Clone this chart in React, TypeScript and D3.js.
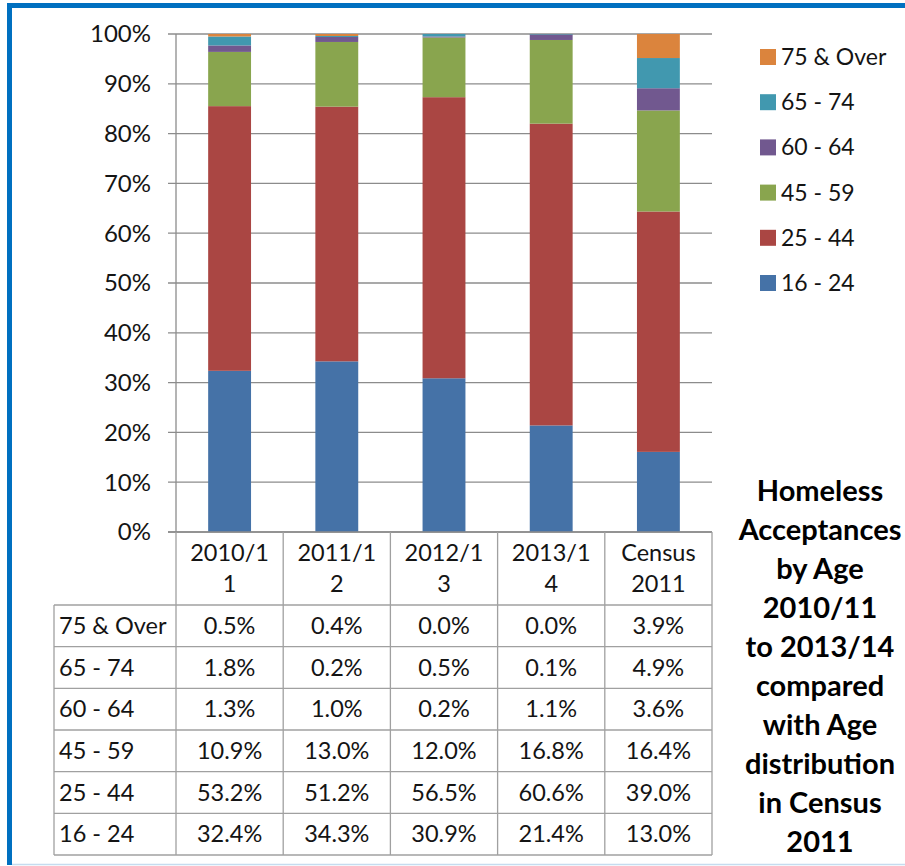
import React from "react";
import * as d3 from "d3";

const categories = ["2010/11", "2011/12", "2012/13", "2013/14", "Census 2011"];
const categoryLines = [["2010/1", "1"], ["2011/1", "2"], ["2012/1", "3"], ["2013/1", "4"], ["Census", "2011"]];
const seriesNames = ["16 - 24", "25 - 44", "45 - 59", "60 - 64", "65 - 74", "75 & Over"];
const seriesColors = ["#4572A7", "#AA4643", "#89A54E", "#71588F", "#4198AF", "#DB843D"];
const age16to24 = [32.4, 34.3, 30.9, 21.4, 13.0];
const age25to44 = [53.2, 51.2, 56.5, 60.6, 39.0];
const age45to59 = [10.9, 13.0, 12.0, 16.8, 16.4];
const age60to64 = [1.3, 1.0, 0.2, 1.1, 3.6];
const age65to74 = [1.8, 0.2, 0.5, 0.1, 4.9];
const age75over = [0.5, 0.4, 0.0, 0.0, 3.9];
const yTicks = [0, 0.1, 0.2, 0.3, 0.4, 0.5, 0.6, 0.7, 0.8, 0.9, 1.0];
const titleLines = ["Homeless", "Acceptances", "by Age", "2010/11", "to 2013/14", "compared", "with Age", "distribution", "in Census", "2011"];

const seriesValues = [age16to24, age25to44, age45to59, age60to64, age65to74, age75over];

export default function App() {
  const W = 905, H = 866;
  const font = "Lato, 'Open Sans', sans-serif";
  const rows = categories.map((c, i) => {
    const r: any = { cat: c };
    seriesNames.forEach((s, j) => (r[s] = seriesValues[j][i]));
    return r;
  });
  const stacked = d3.stack().keys(seriesNames).offset(d3.stackOffsetExpand)(rows);

  const plotLeft = 176, plotRight = 712, plotTop = 34, plotBottom = 532;
  const x = d3.scaleBand().domain(categories).range([plotLeft, plotRight]).paddingInner(0.6).paddingOuter(0.3);
  const y = d3.scaleLinear().domain([0, 1]).range([plotBottom, plotTop]);
  const step = x.step();
  const colEdge = (i: number) => plotLeft + i * step;

  const headerBottom = 605;
  const tableBottom = 855;
  const tableLeft = 54;
  const rowH = (tableBottom - headerBottom) / seriesNames.length;
  const tableOrder = [...seriesNames].reverse();
  const gridColor = "#8c8c8c";
  const tableColor = "#a0a0a0";
  const textColor = "#141414";

  const legendTop = 57, legendStep = 45.2;

  return (
    <div style={{ position: "absolute", left: 0, top: 0 }}>
      <svg width={W} height={H} style={{ display: "block", background: "#fff" }}>
        {/* frame */}
        <line x1={7} x2={W} y1={5.5} y2={5.5} stroke="#0070C0" strokeWidth={5} />
        <line x1={9.5} x2={9.5} y1={3} y2={865} stroke="#0070C0" strokeWidth={5} />
        <line x1={12} x2={W} y1={864.5} y2={864.5} stroke="#c5dcef" strokeWidth={1.5} />

        {/* gridlines & ticks */}
        {yTicks.map((t) => (
          <g key={t}>
            <line x1={168} x2={plotRight} y1={y(t)} y2={y(t)} stroke={gridColor} strokeWidth={1.3} />
            <text x={151} y={y(t)} dy="0.35em" textAnchor="end" fontFamily={font} fontSize={24} fill={textColor}>
              {d3.format(".0%")(t)}
            </text>
          </g>
        ))}

        {/* bars */}
        {stacked.map((s, si) => (
          <g key={s.key} fill={seriesColors[si]}>
            {s.map((d, i) => (
              <rect key={i} x={x(categories[i])} width={x.bandwidth()} y={y(d[1])} height={Math.max(0, y(d[0]) - y(d[1]))} />
            ))}
          </g>
        ))}

        {/* axis line & header */}
        <line x1={168} x2={plotRight} y1={plotBottom} y2={plotBottom} stroke={gridColor} strokeWidth={1.3} />
        <line x1={plotLeft} x2={plotLeft} y1={plotTop} y2={plotBottom} stroke={gridColor} strokeWidth={1.3} />
        {categories.map((c, i) => (
          <g key={c}>
            {categoryLines[i].map((ln, k) => (
              <text key={k} x={colEdge(i) + step / 2} y={553 + k * 31} dy="0.35em" textAnchor="middle" fontFamily={font} fontSize={23.5} fill={textColor}>
                {ln}
              </text>
            ))}
          </g>
        ))}
        {d3.range(categories.length + 1).map((i) => (
          <line key={i} x1={colEdge(i)} x2={colEdge(i)} y1={plotBottom} y2={tableBottom} stroke={tableColor} strokeWidth={1.3} />
        ))}

        {/* table */}
        {d3.range(seriesNames.length + 1).map((r) => (
          <line key={r} x1={tableLeft} x2={plotRight} y1={headerBottom + r * rowH} y2={headerBottom + r * rowH} stroke={tableColor} strokeWidth={1.3} />
        ))}
        <line x1={tableLeft} x2={tableLeft} y1={headerBottom} y2={tableBottom} stroke={tableColor} strokeWidth={1.3} />
        {tableOrder.map((name, r) => {
          const si = seriesNames.indexOf(name);
          const cy = headerBottom + r * rowH + rowH / 2;
          return (
            <g key={name}>
              <text x={59} y={cy} dy="0.35em" fontFamily={font} fontSize={23.5} fill={textColor}>
                {name}
              </text>
              {seriesValues[si].map((v, i) => (
                <text key={i} x={colEdge(i) + step / 2} y={cy} dy="0.35em" textAnchor="middle" fontFamily={font} fontSize={23.5} fill={textColor}>
                  {v.toFixed(1) + "%"}
                </text>
              ))}
            </g>
          );
        })}

        {/* legend */}
        {tableOrder.map((name, k) => {
          const si = seriesNames.indexOf(name);
          const cy = legendTop + k * legendStep;
          return (
            <g key={name}>
              <rect x={760} y={cy - 8} width={16} height={16} fill={seriesColors[si]} />
              <text x={781} y={cy} dy="0.35em" fontFamily={font} fontSize={23} fill={textColor}>
                {name}
              </text>
            </g>
          );
        })}

        {/* title */}
        {titleLines.map((ln, k) => (
          <text key={k} x={820} y={491 + k * 39} dy="0.35em" textAnchor="middle" fontFamily={font} fontWeight="bold" fontSize={29} fill="#000">
            {ln}
          </text>
        ))}
      </svg>
    </div>
  );
}
